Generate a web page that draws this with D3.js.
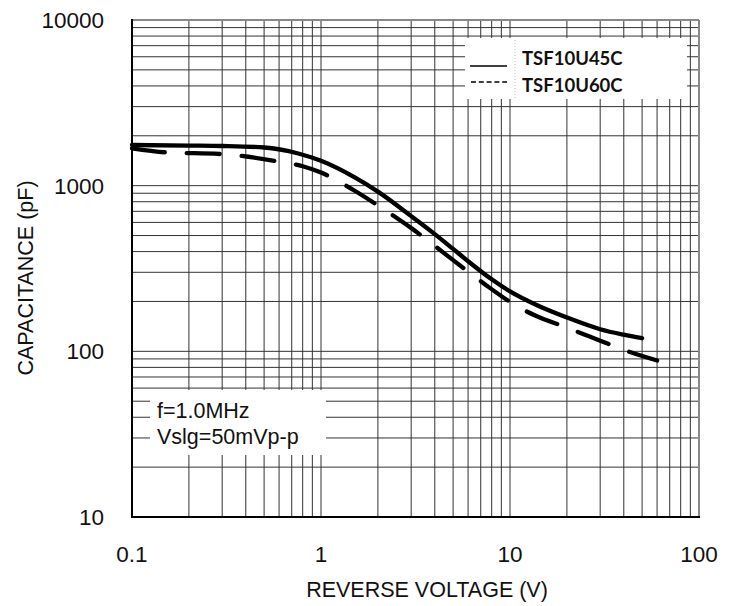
<!DOCTYPE html>
<html>
<head>
<meta charset="utf-8">
<script src="https://cdn.jsdelivr.net/npm/d3@7"></script>
<style>
  html, body { margin: 0; padding: 0; background: #fff; }
  svg { display: block; }
</style>
</head>
<body>
<svg id="chart" width="731" height="606"></svg>
<script>
// ---- data ----
const xTickValues = [0.1, 1, 10, 100];
const xTickLabels = ["0.1", "1", "10", "100"];
const yTickValues = [10, 100, 1000, 10000];
const yTickLabels = ["10", "100", "1000", "10000"];

const seriesNames = ["TSF10U45C", "TSF10U60C"];

// TSF10U45C (solid)
const voltsA = [0.1, 0.2, 0.3, 0.5, 0.75, 1.0, 1.5, 2, 3, 4, 5, 6, 8, 10, 14, 20, 30, 40, 50];
const capA   = [1760, 1745, 1735, 1700, 1570, 1412, 1125, 920, 655, 510, 415, 350, 272, 230, 189, 160, 136, 126, 120];

// TSF10U60C (dashed)
const voltsB = [0.1, 0.15, 0.3, 0.6, 0.8, 1.0, 1.5, 2, 3, 4, 5, 6.3, 7.5, 11, 13.5, 20, 30, 40, 60];
const capB   = [1680, 1590, 1550, 1395, 1310, 1200, 935, 760, 555, 433, 355, 290, 250, 186, 165, 139, 116, 102, 88];

const noteLines = ["f=1.0MHz", "Vslg=50mVp-p"];
const xTitle = "REVERSE VOLTAGE (V)";
const yTitle = "CAPACITANCE (pF)";

// ---- layout ----
const svg = d3.select("#chart");
const L = 132, R = 699, T = 20, B = 517;

const x = d3.scaleLog().domain([0.1, 100]).range([L, R]);
const y = d3.scaleLog().domain([10, 10000]).range([B, T]);

// grid values (minor 2..9 of each decade + inner majors)
const xGrid = [];
[0.1, 1, 10].forEach(d => { for (let k = 2; k <= 9; k++) xGrid.push(d * k); if (d > 0.1) xGrid.push(d); });
const yGrid = [];
[10, 100, 1000].forEach(d => { for (let k = 2; k <= 9; k++) yGrid.push(d * k); if (d > 10) yGrid.push(d); });

const grid = svg.append("g");
grid.selectAll("line.v").data(xGrid).join("line")
  .attr("x1", d => x(d)).attr("x2", d => x(d))
  .attr("y1", T).attr("y2", B)
  .attr("stroke", "#333").attr("stroke-width", 1);
grid.selectAll("line.h").data(yGrid).join("line")
  .attr("y1", d => y(d)).attr("y2", d => y(d))
  .attr("x1", L).attr("x2", R)
  .attr("stroke", "#333").attr("stroke-width", 1);

// frame
svg.append("line").attr("x1", L).attr("x2", R).attr("y1", T).attr("y2", T).attr("stroke", "#888").attr("stroke-width", 2);
svg.append("line").attr("x1", R).attr("x2", R).attr("y1", T).attr("y2", B).attr("stroke", "#888").attr("stroke-width", 2);
svg.append("line").attr("x1", L).attr("x2", L).attr("y1", T - 1).attr("y2", B + 1).attr("stroke", "#000").attr("stroke-width", 2);
svg.append("line").attr("x1", L - 1).attr("x2", R + 1).attr("y1", B).attr("y2", B).attr("stroke", "#000").attr("stroke-width", 2);

// white boxes (legend + note)
svg.append("rect").attr("x", 465).attr("y", 38).attr("width", 222).attr("height", 61).attr("fill", "#fff");
svg.append("rect").attr("x", 150).attr("y", 390).attr("width", 176).attr("height", 65).attr("fill", "#fff");

// curves
const line = d3.line().x(d => x(d[0])).y(d => y(d[1])).curve(d3.curveMonotoneX);
const dataA = voltsA.map((v, i) => [v, capA[i]]);
const dataB = voltsB.map((v, i) => [v, capB[i]]);

svg.append("path").datum(dataA).attr("d", line)
  .attr("fill", "none").attr("stroke", "#000").attr("stroke-width", 4.3)
  .attr("stroke-linecap", "round");
svg.append("path").datum(dataB).attr("d", line)
  .attr("fill", "none").attr("stroke", "#000").attr("stroke-width", 4.3)
  .attr("stroke-linecap", "round").attr("stroke-dasharray", "33,22");

// axis tick labels
const tickFont = "'Liberation Sans', Arial, sans-serif";
svg.append("g").selectAll("text").data(yTickValues).join("text")
  .attr("x", 104).attr("y", d => y(d)).attr("dy", "0.36em")
  .attr("text-anchor", "end")
  .attr("font-family", tickFont).attr("font-size", 22.5).attr("fill", "#111")
  .text((d, i) => yTickLabels[i]);
svg.append("g").selectAll("text").data(xTickValues).join("text")
  .attr("x", d => x(d)).attr("y", 562)
  .attr("text-anchor", "middle")
  .attr("font-family", tickFont).attr("font-size", 22.5).attr("fill", "#111")
  .text((d, i) => xTickLabels[i]);

// axis titles
svg.append("text").attr("x", 427).attr("y", 597).attr("text-anchor", "middle")
  .attr("font-family", tickFont).attr("font-size", 21.5).attr("fill", "#111").text(xTitle);
svg.append("text").attr("transform", "translate(33,278) rotate(-90)").attr("text-anchor", "middle")
  .attr("font-family", tickFont).attr("font-size", 21.5).attr("fill", "#111").text(yTitle);

// legend
svg.append("line").attr("x1", 515).attr("x2", 515).attr("y1", 40).attr("y2", 98)
  .attr("stroke", "#bbb").attr("stroke-width", 1).attr("stroke-dasharray", "1,2");
svg.append("line").attr("x1", 470).attr("x2", 507).attr("y1", 66).attr("y2", 66)
  .attr("stroke", "#000").attr("stroke-width", 1.5);
svg.append("line").attr("x1", 471).attr("x2", 507).attr("y1", 82).attr("y2", 82)
  .attr("stroke", "#000").attr("stroke-width", 1.5).attr("stroke-dasharray", "5,2.8");
svg.append("g").selectAll("text").data(seriesNames).join("text")
  .attr("x", 522).attr("y", (d, i) => 65 + i * 27.3)
  .attr("font-family", "Lato, 'Open Sans', sans-serif").attr("font-weight", "bold")
  .attr("font-size", 18.5).attr("fill", "#111")
  .text(d => d);

// note
svg.append("g").selectAll("text").data(noteLines).join("text")
  .attr("x", 157).attr("y", (d, i) => 417.5 + i * 26)
  .attr("font-family", tickFont).attr("font-size", 21.5).attr("fill", "#111")
  .text(d => d);
</script>
</body>
</html>
